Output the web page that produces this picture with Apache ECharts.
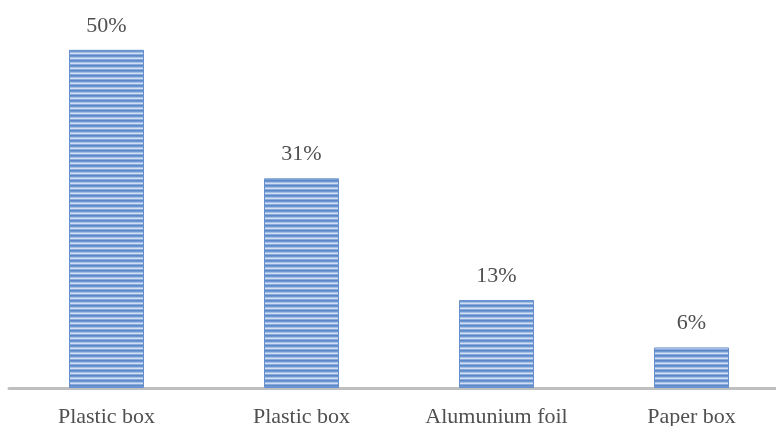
<!DOCTYPE html>
<html>
<head>
<meta charset="utf-8">
<script src="https://cdn.jsdelivr.net/npm/echarts@6/dist/echarts.min.js"></script>
<style>
  html, body { margin: 0; padding: 0; background: #fff; }
  #chart { width: 776px; height: 426px; }
</style>
</head>
<body>
<div id="chart"></div>
<script>
const categories = ["Plastic box", "Plastic box", "Alumunium foil", "Paper box"];
const shares = [50, 31, 13, 6];

// striped fill like the original bars, one row per colour
const stripeRows = ["#5b88c9", "#6f97d2", "#a4bfe6", "#d3e0f3", "#8aaadb"];
const stripe = document.createElement("canvas");
stripe.width = 4;
stripe.height = stripeRows.length;
const sctx = stripe.getContext("2d");
stripeRows.forEach((c, i) => {
  sctx.fillStyle = c;
  sctx.fillRect(0, i, 4, 1);
});

const chart = echarts.init(document.getElementById("chart"));

const option = {
  animation: false,
  grid: { left: 9, width: 780, top: 16, bottom: 38, outerBoundsMode: "none" },
  xAxis: {
    type: "category",
    data: categories,
    axisLine: { lineStyle: { color: "#bfbfbf", width: 3 } },
    axisTick: { show: false },
    axisLabel: {
      color: "#505050",
      fontFamily: "Liberation Serif",
      fontSize: 22,
      margin: 18
    }
  },
  yAxis: {
    type: "value",
    min: 0,
    max: 55,
    show: false,
    splitLine: { show: false }
  },
  series: [
    {
      type: "bar",
      data: shares,
      barWidth: 75,
      itemStyle: {
        color: { image: stripe, repeat: "repeat" },
        borderColor: "#6690cd",
        borderWidth: 1
      },
      label: {
        show: true,
        position: "top",
        distance: 13,
        formatter: "{c}%",
        color: "#505050",
        fontFamily: "Liberation Serif",
        fontSize: 22
      }
    }
  ]
};

chart.setOption(option);
</script>
</body>
</html>
